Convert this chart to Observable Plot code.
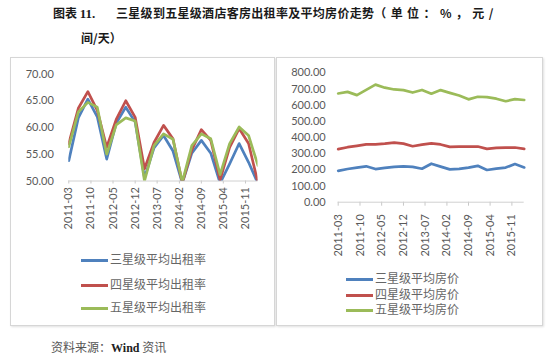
<!DOCTYPE html>
<html>
<head>
<meta charset="utf-8">
<script src="https://cdn.jsdelivr.net/npm/d3@7"></script>
<script src="https://cdn.jsdelivr.net/npm/@observablehq/plot@0.6"></script>
<style>
  html, body { margin: 0; padding: 0; background: #fff; }
  body { width: 553px; height: 354px; position: relative; overflow: hidden; font-family: "Noto Sans CJK SC", sans-serif; }
  .abs { position: absolute; white-space: nowrap; }
  .title { font-weight: bold; font-size: 12px; color: #1a1a1a; line-height: 16px; }
  .box { position: absolute; border: 1px solid #d6d6d6; box-shadow: 1px 1px 2px rgba(0,0,0,0.12); background: #fff; }
  .chart { position: absolute; }
  .leg { position: absolute; font-size: 12px; color: #666; line-height: 14px; white-space: nowrap; }
  .leg span.sw { display: inline-block; width: 27px; height: 3px; vertical-align: middle; margin-right: 2px; }
  svg g[aria-label="x-axis tick"], svg g[aria-label="x-axis"] line { stroke: #c8c8c8; }
</style>
</head>
<body>
<script>
// ---- data ----
const months = ["2011-03","2011-06","2011-09","2011-12","2012-03","2012-06","2012-09","2012-12",
  "2013-03","2013-06","2013-09","2013-12","2014-03","2014-06","2014-09","2014-12",
  "2015-03","2015-06","2015-09","2015-12","2016-03"];
const tickLabels = ["2011-03","2011-10","2012-05","2012-12","2013-07","2014-02","2014-09","2015-04","2015-11"];
const occ3 = [53.8, 61.8, 65.3, 62.0, 54.1, 60.8, 63.8, 61.0, 50.6, 56.2, 58.5, 55.6, 49.6, 55.2, 57.6, 55.2, 49.6, 53.2, 57.0, 53.5, 49.5];
const occ4 = [57.0, 63.6, 66.7, 63.2, 56.3, 61.5, 65.0, 61.9, 52.3, 57.2, 60.4, 57.9, 49.6, 55.8, 59.6, 57.6, 50.2, 56.3, 59.8, 57.0, 49.6];
const occ5 = [56.4, 62.9, 64.7, 63.8, 55.0, 60.5, 61.8, 61.2, 50.0, 56.6, 58.8, 57.8, 49.8, 56.6, 58.8, 57.9, 51.2, 57.0, 60.1, 58.5, 52.9];
const price3 = [194, 205, 214, 222, 205, 212, 218, 221, 218, 207, 238, 220, 203, 206, 214, 225, 199, 208, 214, 236, 215];
const price4 = [328, 340, 348, 357, 358, 362, 368, 362, 346, 356, 364, 357, 342, 344, 344, 344, 330, 336, 338, 338, 330];
const price5 = [672, 682, 662, 694, 727, 708, 697, 693, 678, 694, 671, 693, 676, 660, 636, 652, 650, 640, 624, 637, 632];
const occNames = ["三星级平均出租率", "四星级平均出租率", "五星级平均出租率"];
const priceNames = ["三星级平均房价", "四星级平均房价", "五星级平均房价"];
const colors = ["#4F81BD", "#C0504D", "#9BBB59"];

// ---- helpers ----
const parse = d3.utcParse("%Y-%m");
const toRows = (vals) => months.map((m, i) => ({ date: parse(m), v: vals[i] }));
const tickDates = tickLabels.map(parse);

function addEl(html, cls, style) {
  const d = document.createElement("div");
  d.className = cls;
  Object.assign(d.style, style);
  d.innerHTML = html;
  document.body.appendChild(d);
  return d;
}

// title
addEl("图表&nbsp;<span style=\"font-family:'Liberation Serif',serif;font-size:13px\">11.</span>", "abs title", { left: "53px", top: "5px" });
addEl("<span style=\"letter-spacing:0.3px\">三星级到五星级酒店客房出租率及平均房价走势</span><span style=\"letter-spacing:4.4px\">（单位：%，元/</span>", "abs title", { left: "116px", top: "5px" });
addEl("间/天）", "abs title", { left: "81px", top: "30px" });

// boxes
addEl("", "box", { left: "10px", top: "57px", width: "263px", height: "267px" });
addEl("", "box", { left: "276px", top: "57px", width: "265px", height: "267px" });

const svgStyle = { fontFamily: "Lato, 'Open Sans', sans-serif", fontSize: "11px", color: "#595959", background: "transparent", overflow: "visible" };

// left chart
const left = Plot.plot({
  width: 264, height: 200,
  marginLeft: 57.3, marginRight: 17.5, marginTop: 15.5, marginBottom: 77.5,
  style: svgStyle,
  x: { type: "utc", domain: [parse("2011-03"), parse("2016-03")], ticks: tickDates, tickFormat: d3.utcFormat("%Y-%m"), tickRotate: -90, tickSize: 3, tickPadding: 3, label: null },
  y: { domain: [50, 70], ticks: [50, 55, 60, 65, 70], tickFormat: d => d.toFixed(2), tickSize: 0, tickPadding: 15, label: null },
  marks: [
    Plot.ruleY([50], { stroke: "#d0d0d0" }),
    Plot.line(toRows(occ3), { x: "date", y: "v", stroke: colors[0], strokeWidth: 2.7, clip: true }),
    Plot.line(toRows(occ4), { x: "date", y: "v", stroke: colors[1], strokeWidth: 2.7, clip: true }),
    Plot.line(toRows(occ5), { x: "date", y: "v", stroke: colors[2], strokeWidth: 2.7, clip: true })
  ]
});
const lw = document.createElement("div");
lw.className = "chart"; lw.style.left = "11px"; lw.style.top = "58px";
lw.appendChild(left); document.body.appendChild(lw);

// right chart
const right = Plot.plot({
  width: 265, height: 200,
  marginLeft: 60.7, marginRight: 18.3, marginTop: 14.3, marginBottom: 56.3,
  style: svgStyle,
  x: { type: "utc", domain: [parse("2011-03"), parse("2016-03")], ticks: tickDates, tickFormat: d3.utcFormat("%Y-%m"), tickRotate: -90, tickSize: 4, tickPadding: 8, label: null },
  y: { domain: [0, 800], ticks: d3.range(0, 801, 100), tickFormat: d => d.toFixed(2), tickSize: 0, tickPadding: 12.5, label: null },
  marks: [
    Plot.ruleY([0], { stroke: "#d0d0d0" }),
    Plot.line(toRows(price3), { x: "date", y: "v", stroke: colors[0], strokeWidth: 2.7 }),
    Plot.line(toRows(price4), { x: "date", y: "v", stroke: colors[1], strokeWidth: 2.7 }),
    Plot.line(toRows(price5), { x: "date", y: "v", stroke: colors[2], strokeWidth: 2.7 })
  ]
});
const rw = document.createElement("div");
rw.className = "chart"; rw.style.left = "277px"; rw.style.top = "58px";
rw.appendChild(right); document.body.appendChild(rw);

// legends
const occY = [259, 284, 307];
occNames.forEach((n, i) => addEl(`<span class="sw" style="background:${colors[i]}"></span>${n}`, "leg", { left: "81px", top: (occY[i] - 7) + "px" }));
const priceY = [278, 293.5, 309];
priceNames.forEach((n, i) => addEl(`<span class="sw" style="background:${colors[i]}"></span>${n}`, "leg", { left: "346px", top: (priceY[i] - 7) + "px" }));

// source
addEl("资料来源：<span style=\"font-family:'Liberation Serif',serif;font-weight:bold;font-size:12px;color:#222\">Wind</span> 资讯", "abs", { left: "51px", top: "339px", fontSize: "12px", color: "#555", lineHeight: "16px" });
</script>
</body>
</html>
